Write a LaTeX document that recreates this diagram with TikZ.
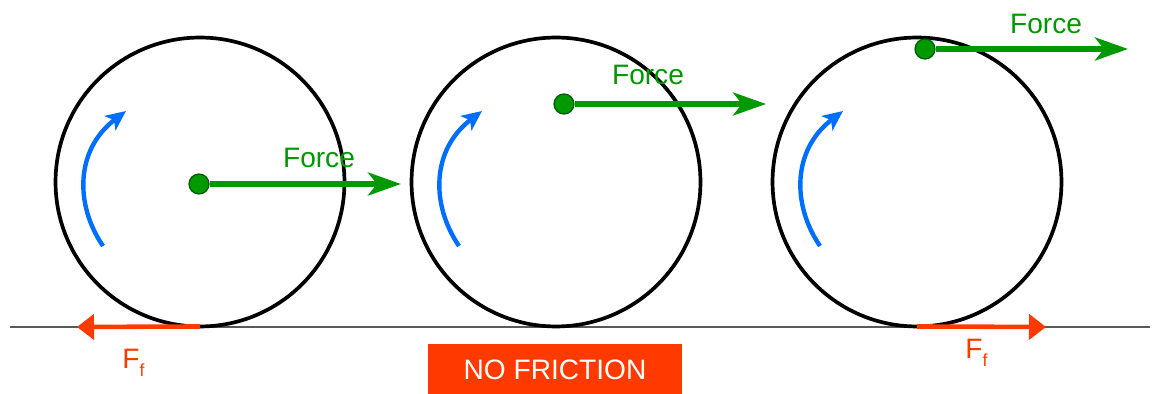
\documentclass[tikz,border=0pt]{standalone}
\usepackage{fontspec}
\setmainfont{Liberation Sans}
\usetikzlibrary{arrows.meta}
\definecolor{forcegreen}{RGB}{0,153,0}
\definecolor{dotgreen}{RGB}{0,90,0}
\definecolor{spinblue}{RGB}{0,110,255}
\definecolor{frictred}{RGB}{255,58,0}
\begin{document}
\begin{tikzpicture}[x=0.02cm, y=-0.02cm,
    wheel/.style={draw, circle, line width=2.1pt, minimum size=5.78cm, inner sep=0pt, outer sep=0pt},
    pin/.style={circle, fill=forcegreen, draw=dotgreen, line width=0.7pt, minimum size=0.4cm, inner sep=0pt},
    push/.style={-{Stealth[length=0.66cm, width=0.46cm, inset=0.18cm]}, line width=3pt, color=forcegreen},
    spin/.style={-{Stealth[length=0.4cm, width=0.36cm, inset=0.1cm]}, line width=2.5pt, color=spinblue},
    drag/.style={-{Triangle[length=0.34cm, width=0.5cm]}, line width=2.6pt, color=frictred},
    lbl/.style={font=\fontsize{16}{19}\selectfont}]
    \useasboundingbox (0,0) rectangle (1152,394);
    \draw[line width=0.8pt, color=black!65] (10,327) -- (1150,327);
    \node[wheel] (w1) at (200,182) {};
    \node[wheel] (w2) at (556,182) {};
    \node[wheel] (w3) at (917,182) {};
    % turning sense
    \draw[spin] (103,246) .. controls (75,205) and (75,150) .. (126,111);
    \draw[spin] (459,246) .. controls (431,205) and (431,150) .. (482,111);
    \draw[spin] (820,246) .. controls (792,205) and (792,150) .. (843,111);
    % pushing force
    \node[pin] (d1) at (199,184) {};
    \node[pin] (d2) at (564,104) {};
    \node[pin] (d3) at (925,49) {};
    \coordinate (f1) at (401,184);
    \coordinate (f2) at (766,104);
    \coordinate (f3) at (1128,49);
    \draw[push] (d1) -- (f1);
    \draw[push] (d2) -- (f2);
    \draw[push] (d3) -- (f3);
    \node[lbl, text=forcegreen, anchor=base] (t1) at (319,168) {Force};
    \node[lbl, text=forcegreen, anchor=base] (t2) at (648,85) {Force};
    \node[lbl, text=forcegreen, anchor=base] (t3) at (1046,34) {Force};
    % friction at the ground
    \coordinate (r1) at (77,327);
    \coordinate (r3) at (1046,327);
    \draw[drag] (w1.south) -- (r1);
    \draw[drag] (w3.south) -- (r3);
    \node[lbl, text=frictred, anchor=base west, inner sep=0pt] (g1) at (122,369) {F\raisebox{-4.5pt}{\fontsize{10}{12}\selectfont f}};
    \node[lbl, text=frictred, anchor=base west, inner sep=0pt] (g3) at (965,359) {F\raisebox{-4.5pt}{\fontsize{10}{12}\selectfont f}};
    \node[lbl, fill=frictred, text=white, minimum width=5.08cm, minimum height=1.04cm] (nf) at (555,370) {NO FRICTION};
\end{tikzpicture}
\end{document}
